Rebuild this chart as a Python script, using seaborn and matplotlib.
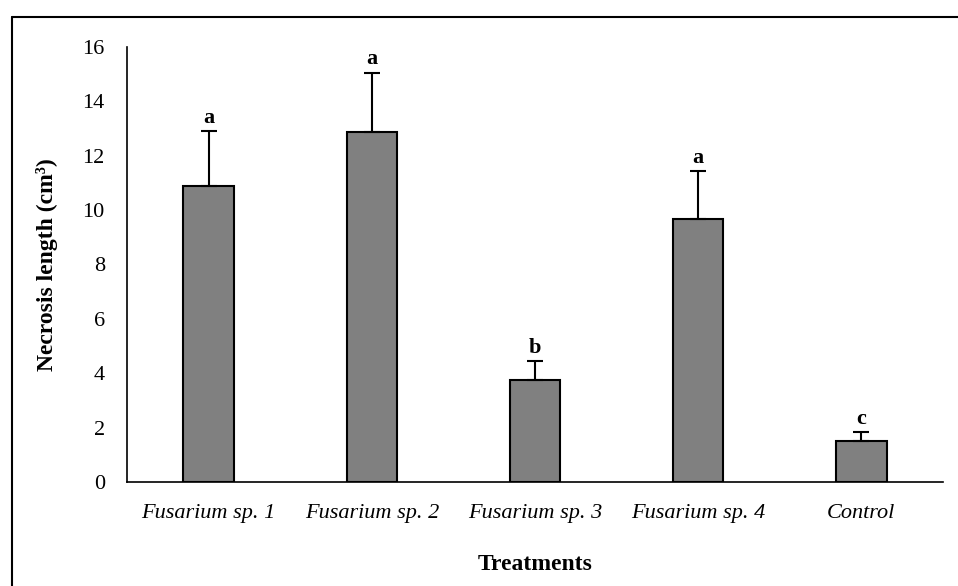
import numpy as np
import pandas as pd
import seaborn as sns
import matplotlib.pyplot as plt
from matplotlib.lines import Line2D

treatments = ["Fusarium sp. 1", "Fusarium sp. 2", "Fusarium sp. 3", "Fusarium sp. 4", "Control"]
necrosis = [10.9, 12.88, 3.74, 9.69, 1.52]
se = [2.0, 2.18, 0.70, 1.74, 0.31]
letters = ["a", "a", "b", "a", "c"]

sns.set_theme(style="white")
plt.rcParams['font.family'] = ['Liberation Serif', 'DejaVu Serif']
plt.rcParams['text.color'] = 'black'
plt.rcParams['axes.labelcolor'] = 'black'

df = pd.DataFrame({"Treatment": treatments, "Necrosis": necrosis, "SE": se})

fig = plt.figure(figsize=(9.58, 5.86), dpi=100)
ax = fig.add_axes([0.1326, 0.1775, 0.8517, 0.7423])

sns.barplot(data=df, x="Treatment", y="Necrosis", color="#808080",
            edgecolor="black", linewidth=1.5, width=0.31, saturation=1,
            errorbar=None, ax=ax)

# upward error bars only
ax.errorbar(np.arange(len(treatments)), df["Necrosis"],
            yerr=[np.zeros(len(se)), df["SE"]], fmt="none",
            ecolor="black", elinewidth=1.5, capsize=5.5, capthick=1.5)

for i, (m, s, l) in enumerate(zip(necrosis, se, letters)):
    ax.text(i, m + s + 0.12, l, ha="center", va="bottom",
            fontsize=16, fontweight="bold", color="black")

ax.set_ylim(0, 16)
ax.set_xlim(-0.5, len(treatments) - 0.5)
ax.set_yticks(range(0, 17, 2))
ax.tick_params(axis="both", length=0, labelsize=16, colors="black")
ax.tick_params(axis="y", pad=16)
ax.tick_params(axis="x", pad=16)
for t in ax.get_xticklabels():
    t.set_fontstyle("italic")

sns.despine(ax=ax)
for sp in ["left", "bottom"]:
    ax.spines[sp].set_color("black")
    ax.spines[sp].set_linewidth(1.2)

ax.set_xlabel("Treatments", fontsize=17, fontweight="bold", labelpad=22)
ax.set_ylabel("Necrosis length (cm³)", fontsize=17, fontweight="bold", labelpad=18)

# frame around figure (left and top visible)
fig.add_artist(Line2D([12 / 958, 12 / 958], [0, 1 - 17 / 586], transform=fig.transFigure,
                      color="black", lw=1.5))
fig.add_artist(Line2D([12 / 958, 1], [1 - 17 / 586, 1 - 17 / 586], transform=fig.transFigure,
                      color="black", lw=1.5))

fig.savefig("out.png", dpi=100)
